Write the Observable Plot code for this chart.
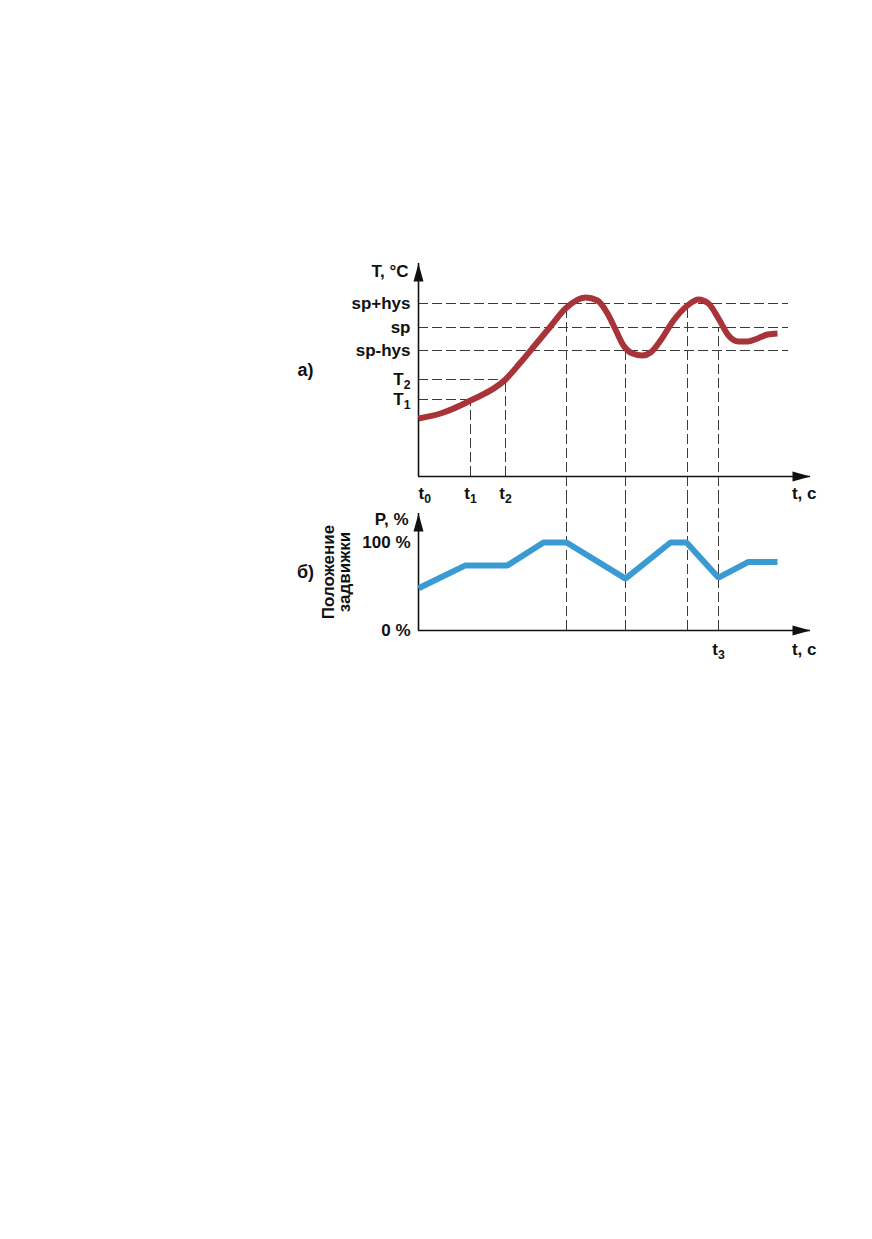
<!DOCTYPE html>
<html>
<head>
<meta charset="utf-8">
<script src="https://cdn.jsdelivr.net/npm/d3@7"></script>
<script src="https://cdn.jsdelivr.net/npm/@observablehq/plot@0.6"></script>
<style>
  html, body { margin: 0; padding: 0; background: #fff; }
  #chart { width: 872px; }
  #chart svg { display: block; overflow: visible; }
</style>
</head>
<body>
<div id="chart"></div>
<script>
// ---------- data ----------
// (a) temperature panel
const levelLabels = ["sp+hys", "sp", "sp-hys", "T_2", "T_1"];
const levelValues = [173, 149, 126, 97, 77];
const guideEnd = 370;                       // end time of the sp guide lines
const tickLabels = ["t_0", "t_1", "t_2"];
const tickTimes = [0, 52, 87];
const switchTimes = [148, 207, 269, 300];   // moments the valve changes direction
const switchLevels = [173, 126, 173, 149];  // temperature level at those moments
const tempTime  = [0, 22, 52, 87, 102, 117, 132, 147, 167, 179, 189, 197, 205, 214, 224, 232, 242, 255, 269, 280, 290, 300, 310, 320, 329, 339, 349, 359];
const tempValue = [58, 63, 76, 97, 114, 132, 150, 168, 179, 176, 163, 147, 131, 123, 121, 124, 136, 156, 171, 177, 173, 158, 141, 135, 135, 138, 142, 143];
const tMax = 392, TMax = 213;
// (b) valve position panel
const posTime  = [0, 47, 89, 125, 148, 207, 252, 268, 300, 330, 359];
const posValue = [48, 74, 74, 100, 100, 59, 100, 100, 60, 78, 78];
const pTickLabels = ["100 %", "0 %"];
const pTickValues = [100, 0];
const t3 = 300;
const PMax = 133;

// ---------- styles ----------
const RED = "#a8343a", BLUE = "#3a9bd3", DASH = "#3c3c3c", AXIS = "#111";
const font = "'Liberation Sans', Arial, sans-serif";
const arrowSymbol = {
  draw(ctx) { ctx.moveTo(0, 0); ctx.lineTo(5, 18); ctx.lineTo(-5, 18); ctx.closePath(); }
};
const dash = {stroke: DASH, strokeWidth: 1, strokeDasharray: "10,4"};
const txt = {fontSize: 17, fontWeight: "bold", fill: "#111"};

function subscripts(svg) {
  svg.querySelectorAll("text").forEach(el => {
    if (el.children.length === 0 && el.textContent.includes("_")) {
      const [base, sub] = el.textContent.split("_");
      el.textContent = base;
      const ts = document.createElementNS("http://www.w3.org/2000/svg", "tspan");
      ts.setAttribute("font-size", "0.72em");
      ts.setAttribute("dy", "0.35em");
      ts.textContent = sub;
      el.appendChild(ts);
    }
  });
  return svg;
}

// ---------- panel (a) ----------
const A = {width: 872, height: 500, mt: 263, mb: 24, ml: 418, mr: 62};
const aPx = (A.height - A.mt - A.mb) / TMax;         // px per degree
const aBottom = -A.mb / aPx;                           // value at the svg bottom edge
const levels = levelLabels.map((label, i) => ({
  label, value: levelValues[i],
  end: label === "T_1" ? tickTimes[1] : label === "T_2" ? tickTimes[2] : guideEnd
}));
const ticks = tickLabels.map((label, i) => ({label, t: tickTimes[i]}));
const switches = switchTimes.map((t, i) => ({t, level: switchLevels[i]}));
const temp = tempTime.map((t, i) => ({t, v: tempValue[i]}));

const plotA = Plot.plot({
  width: A.width, height: A.height,
  marginTop: A.mt, marginBottom: A.mb, marginLeft: A.ml, marginRight: A.mr,
  x: {domain: [0, tMax], axis: null},
  y: {domain: [0, TMax], axis: null},
  style: {fontFamily: font, background: "transparent", overflow: "visible"},
  marks: [
    Plot.ruleY(levels, {y: "value", x1: 0, x2: "end", ...dash}),
    Plot.ruleX(ticks.slice(1), {x: "t", y1: 0, y2: d => levels.find(l => l.label === "T" + d.label.slice(1)).value, ...dash}),
    Plot.ruleX(switches, {x: "t", y1: aBottom, y2: "level", ...dash}),
    Plot.ruleY([0], {x1: 0, x2: tMax, stroke: AXIS, strokeWidth: 1.6}),
    Plot.ruleX([0], {y1: 0, y2: TMax, stroke: AXIS, strokeWidth: 1.6}),
    Plot.dot([{t: 0, v: TMax}], {x: "t", y: "v", symbol: arrowSymbol, fill: AXIS, stroke: "none"}),
    Plot.dot([{t: tMax, v: 0}], {x: "t", y: "v", symbol: arrowSymbol, fill: AXIS, stroke: "none", rotate: 90}),
    Plot.line(temp, {x: "t", y: "v", curve: "monotone-x", stroke: RED, strokeWidth: 6, strokeLinecap: "butt"}),
    Plot.text(levels, {x: 0, y: "value", text: "label", textAnchor: "end", dx: -8, ...txt}),
    Plot.text(["T, °C"], {x: 0, y: TMax, textAnchor: "end", dx: -10, dy: 8, ...txt}),
    Plot.text(ticks.slice(0, 1), {x: "t", y: 0, text: "label", textAnchor: "start", dx: 0, dy: 17, ...txt}),
    Plot.text(ticks.slice(1), {x: "t", y: 0, text: "label", dy: 17, ...txt}),
    Plot.text(["t, c"], {x: tMax, y: 0, textAnchor: "end", dx: 6, dy: 17, ...txt}),
    Plot.text(["а)"], {frameAnchor: "left", textAnchor: "middle", dx: -113, ...txt, fontSize: 18})
  ]
});

// ---------- panel (b) ----------
const B = {width: 872, height: 200, mt: 13, mb: 70, ml: 418, mr: 62};
const bPx = (B.height - B.mt - B.mb) / PMax;           // px per percent
const bTop = PMax + B.mt / bPx;                        // value at the svg top edge
const pos = posTime.map((t, i) => ({t, v: posValue[i]}));
const pTicks = pTickLabels.map((label, i) => ({label, v: pTickValues[i]}));

const plotB = Plot.plot({
  width: B.width, height: B.height,
  marginTop: B.mt, marginBottom: B.mb, marginLeft: B.ml, marginRight: B.mr,
  x: {domain: [0, tMax], axis: null},
  y: {domain: [0, PMax], axis: null},
  style: {fontFamily: font, background: "transparent", overflow: "visible"},
  marks: [
    Plot.ruleX(switchTimes, {x: d => d, y1: 0, y2: bTop, ...dash}),
    Plot.ruleY([0], {x1: 0, x2: tMax, stroke: AXIS, strokeWidth: 1.6}),
    Plot.ruleX([0], {y1: 0, y2: PMax, stroke: AXIS, strokeWidth: 1.6}),
    Plot.dot([{t: 0, v: PMax}], {x: "t", y: "v", symbol: arrowSymbol, fill: AXIS, stroke: "none"}),
    Plot.dot([{t: tMax, v: 0}], {x: "t", y: "v", symbol: arrowSymbol, fill: AXIS, stroke: "none", rotate: 90}),
    Plot.line(pos, {x: "t", y: "v", stroke: BLUE, strokeWidth: 6, strokeLinecap: "butt", strokeLinejoin: "miter"}),
    Plot.text(pTicks, {x: 0, y: "v", text: "label", textAnchor: "end", dx: -8, ...txt}),
    Plot.text(["P, %"], {x: 0, y: PMax, textAnchor: "end", dx: -10, dy: 6, ...txt}),
    Plot.text(["t_3"], {x: t3, y: 0, dy: 19, ...txt}),
    Plot.text(["t, c"], {x: tMax, y: 0, textAnchor: "end", dx: 6, dy: 19, ...txt}),
    Plot.text(["б)"], {frameAnchor: "left", textAnchor: "middle", dx: -113, ...txt, fontSize: 18}),
    Plot.text(["Положение\nзадвижки"], {frameAnchor: "left", textAnchor: "middle", dx: -82, rotate: -90, lineHeight: 0.95, ...txt})
  ]
});

document.getElementById("chart").append(subscripts(plotA), subscripts(plotB));
</script>
</body>
</html>
